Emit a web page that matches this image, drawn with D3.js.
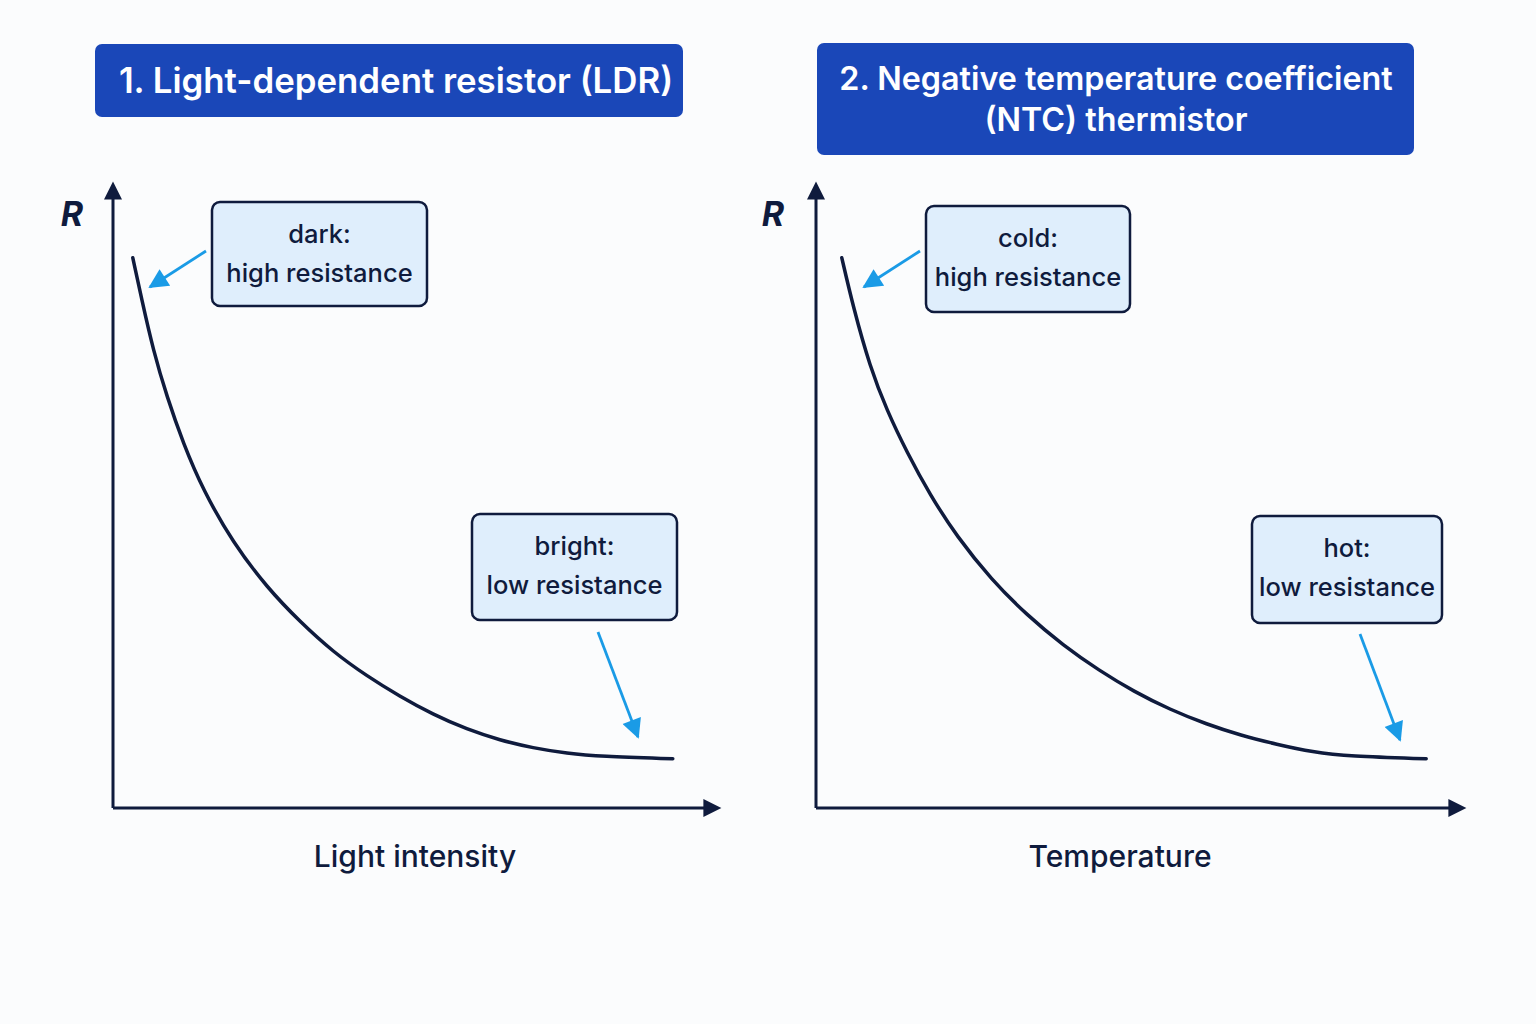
<!DOCTYPE html>
<html>
<head>
<meta charset="utf-8">
<script src="https://cdn.jsdelivr.net/npm/d3@7"></script>
<style>
  html, body { margin: 0; padding: 0; background: #fbfcfd; }
  svg { display: block; font-family: Inter, "Noto Sans", sans-serif; }
</style>
</head>
<body>
<svg width="1536" height="1024"></svg>
<script>
// resistance curves (x and R in arbitrary 0-100 units)
const ldrX = [3.3, 4.8, 6.7, 9, 11.7, 15, 20, 25.7, 31.2, 36.7, 42.3, 47.8, 53.3, 59, 64.5, 70, 75.7, 81.2, 93.3];
const ldrR = [91.7, 84.7, 76.3, 68.5, 60.8, 53, 44.2, 36.7, 31.0, 26.0, 22.0, 18.6, 15.6, 13.1, 11.3, 10.0, 9.1, 8.6, 8.2];

const ntcX = [4.3, 6.2, 9, 11.8, 15.2, 19, 23.5, 29.2, 35.2, 41.2, 47.2, 53, 59, 65, 70.8, 76.8, 82.8, 88.8, 101.7];
const ntcR = [91.7, 83.5, 73.5, 66.3, 59.2, 52.2, 45.2, 38.1, 32.1, 27.1, 22.9, 19.4, 16.4, 14.0, 12.1, 10.6, 9.3, 8.6, 8.2];

const titles = [
    ['1. Light-dependent resistor (LDR)'],
    ['2. Negative temperature coefficient', '(NTC) thermistor']
];
const xLabels = ['Light intensity', 'Temperature'];
const highLabels = [['dark:', 'high resistance'], ['cold:', 'high resistance']];
const lowLabels = [['bright:', 'low resistance'], ['hot:', 'low resistance']];

const navy = '#0f1b3d';
const blue = '#1a47b8';
const cyan = '#1a9be6';

const svg = d3.select('svg');

const defs = svg.append('defs');
defs.append('marker')
    .attr('id', 'axisHead')
    .attr('viewBox', '0 0 10 10')
    .attr('refX', 2).attr('refY', 5)
    .attr('markerWidth', 6.5).attr('markerHeight', 6)
    .attr('markerUnits', 'strokeWidth')
    .attr('orient', 'auto')
    .append('path').attr('d', 'M0,0 L10,5 L0,10 Z').attr('fill', navy);
defs.append('marker')
    .attr('id', 'blueHead')
    .attr('viewBox', '0 0 10 10')
    .attr('refX', 9).attr('refY', 5)
    .attr('markerWidth', 7.5).attr('markerHeight', 7)
    .attr('markerUnits', 'strokeWidth')
    .attr('orient', 'auto')
    .append('path').attr('d', 'M0,0 L10,5 L0,10 Z').attr('fill', cyan);

// panel layout (pixels)
const panels = [
    {
        xs: ldrX, rs: ldrR, ox: 113, oy: 808, xEnd: 707, yEnd: 196, rx: 72,
        title: { x: 95, y: 44, w: 588, h: 73, base: [93], size: 34.8, cx: 396 },
        high: { x: 212, y: 202, w: 215, h: 104, arrow: [206, 251, 150, 287] },
        low: { x: 472, y: 514, w: 205, h: 106, arrow: [598, 632, 638, 737] }
    },
    {
        xs: ntcX, rs: ntcR, ox: 816, oy: 808, xEnd: 1452, yEnd: 196, rx: 773,
        title: { x: 817, y: 43, w: 597, h: 112, base: [90, 131], size: 32.3, cx: 1116 },
        high: { x: 926, y: 206, w: 204, h: 106, arrow: [920, 251, 864, 287] },
        low: { x: 1252, y: 516, w: 190, h: 107, arrow: [1360, 634, 1400, 740] }
    }
];

const drawBox = (g, b, lines) => {
    g.append('rect')
        .attr('x', b.x).attr('y', b.y)
        .attr('width', b.w).attr('height', b.h)
        .attr('rx', 8)
        .attr('fill', '#dfeefc')
        .attr('stroke', navy)
        .attr('stroke-width', 2.5);
    lines.forEach((t, i) => {
        g.append('text')
            .attr('x', b.x + b.w / 2)
            .attr('y', b.y + 41 + i * 39)
            .attr('text-anchor', 'middle')
            .attr('font-size', 25.5)
            .attr('font-weight', 500)
            .attr('fill', navy)
            .text(t);
    });
    const a = b.arrow;
    g.append('line')
        .attr('x1', a[0]).attr('y1', a[1])
        .attr('x2', a[2]).attr('y2', a[3])
        .attr('stroke', cyan)
        .attr('stroke-width', 2.8)
        .attr('marker-end', 'url(#blueHead)');
};

panels.forEach((p, i) => {
    const g = svg.append('g');

    const x = d3.scaleLinear().domain([0, 100]).range([p.ox, p.ox + 600]);
    const y = d3.scaleLinear().domain([0, 100]).range([p.oy, p.oy - 600]);

    // title banner
    g.append('rect')
        .attr('x', p.title.x).attr('y', p.title.y)
        .attr('width', p.title.w).attr('height', p.title.h)
        .attr('rx', 7)
        .attr('fill', blue);
    titles[i].forEach((t, j) => {
        g.append('text')
            .attr('x', p.title.cx)
            .attr('y', p.title.base[j])
            .attr('text-anchor', 'middle')
            .attr('font-size', p.title.size)
            .attr('font-weight', 600)
            .attr('fill', '#fff')
            .text(t);
    });

    // axes
    g.append('line')
        .attr('x1', x(0)).attr('y1', y(0))
        .attr('x2', x(0)).attr('y2', p.yEnd)
        .attr('stroke', navy).attr('stroke-width', 3)
        .attr('marker-end', 'url(#axisHead)');
    g.append('line')
        .attr('x1', x(0)).attr('y1', y(0))
        .attr('x2', p.xEnd).attr('y2', y(0))
        .attr('stroke', navy).attr('stroke-width', 3)
        .attr('marker-end', 'url(#axisHead)');

    g.append('text')
        .attr('x', p.rx).attr('y', 226)
        .attr('text-anchor', 'middle')
        .attr('font-size', 34)
        .attr('font-style', 'italic')
        .attr('font-weight', 700)
        .attr('fill', navy)
        .text('R');

    g.append('text')
        .attr('x', i === 0 ? 415 : 1120).attr('y', 867)
        .attr('text-anchor', 'middle')
        .attr('font-size', 30)
        .attr('font-weight', 500)
        .attr('fill', navy)
        .text(xLabels[i]);

    // curve
    const line = d3.line()
        .x(d => x(d[0]))
        .y(d => y(d[1]))
        .curve(d3.curveBasis);

    g.append('path')
        .datum(d3.zip(p.xs, p.rs))
        .attr('d', line)
        .attr('fill', 'none')
        .attr('stroke', navy)
        .attr('stroke-width', 3.5)
        .attr('stroke-linecap', 'round');

    drawBox(g, p.high, highLabels[i]);
    drawBox(g, p.low, lowLabels[i]);
});
</script>
</body>
</html>
